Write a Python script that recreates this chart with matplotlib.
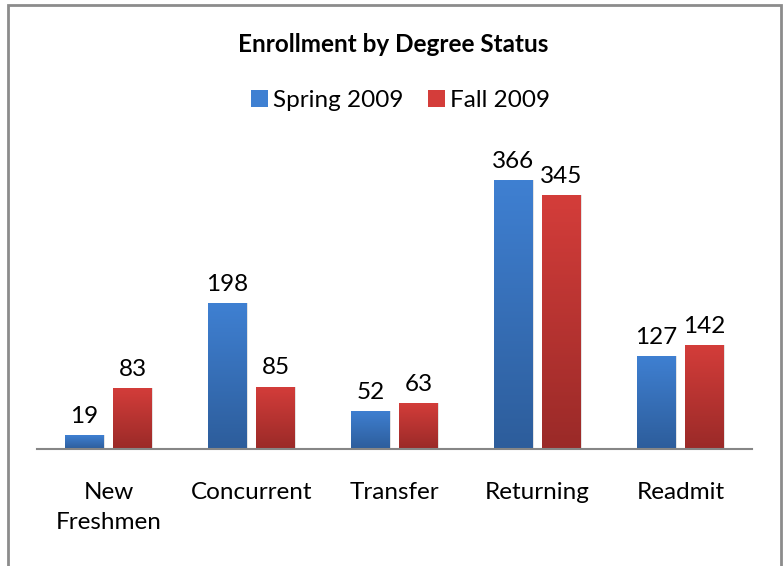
import numpy as np
import matplotlib
matplotlib.use("Agg")
import matplotlib.pyplot as plt
from matplotlib.colors import LinearSegmentedColormap
from matplotlib.patches import Rectangle, Patch

plt.rcParams['font.family'] = ['Lato', 'DejaVu Sans']

# datos
categorias = ['New\nFreshmen', 'Concurrent', 'Transfer', 'Returning', 'Readmit']
spring_2009 = [19, 198, 52, 366, 127]
fall_2009 = [83, 85, 63, 345, 142]

azul = ('#3f80d2', '#2d5d9b')
rojo = ('#d43d3a', '#9a2a28')

fig = plt.figure(figsize=(7.84, 5.66), dpi=100)
ax = fig.add_axes([0.0472, 0.2067, 0.912, 0.5194])

x = np.arange(len(categorias))
ancho = 0.272
desp = 0.168


def barras_degradado(posiciones, valores, colores, etiqueta):
    cmap = LinearSegmentedColormap.from_list('g', [colores[1], colores[0]])
    grad = np.linspace(0, 1, 256).reshape(-1, 1)
    barras = ax.bar(posiciones, valores, ancho, color=colores[0], label=etiqueta,
                    edgecolor='none', zorder=2)
    for b in barras:
        x0, y0 = b.get_x(), b.get_y()
        w, h = b.get_width(), b.get_height()
        # sombra suave
        ax.add_patch(Rectangle((x0 + 0.008, y0), w, h, color='#c8c8c8',
                               alpha=0.5, zorder=1, lw=0))
        img = ax.imshow(grad, cmap=cmap, origin='lower', aspect='auto',
                        extent=(x0, x0 + w, y0, y0 + h), zorder=3)
        img.set_clip_path(b)
    for xi, v in zip(posiciones, valores):
        ax.text(xi, v + 11, str(v), ha='center', va='bottom', fontsize=17.5,
                color='black')
    return barras


barras_degradado(x - desp, spring_2009, azul, 'Spring 2009')
barras_degradado(x + desp, fall_2009, rojo, 'Fall 2009')

ax.set_xlim(-0.5, len(categorias) - 0.5)
ax.set_ylim(0, 400)
ax.set_yticks([])
ax.set_xticks(x)
ax.set_xticklabels(categorias, fontsize=17.5, linespacing=1.5)
ax.tick_params(axis='x', length=0, pad=24)
for lado in ['top', 'right', 'left']:
    ax.spines[lado].set_visible(False)
ax.spines['bottom'].set_color('#868686')
ax.spines['bottom'].set_linewidth(1.5)
ax.spines['bottom'].set_zorder(4)

fig.text(0.501, 0.921, 'Enrollment by Degree Status', ha='center', va='center',
         fontsize=17.5, fontweight='bold')

manejadores = [Patch(facecolor=azul[0], edgecolor='none', label='Spring 2009'),
               Patch(facecolor=rojo[0], edgecolor='none', label='Fall 2009')]
fig.legend(handles=manejadores, loc='center', bbox_to_anchor=(0.511, 0.822),
           ncol=2, frameon=False, fontsize=17.5, handlelength=0.7, handleheight=0.7,
           handletextpad=0.2, columnspacing=1.0)

# marco del gráfico
marco = Rectangle((8 / 784, -0.05), (781 - 8) / 784, 1.05 - 5 / 566,
                  transform=fig.transFigure, fill=False, edgecolor='#8c8c8c',
                  linewidth=2)
fig.patches.append(marco)

fig.savefig('out.png', dpi=100)
